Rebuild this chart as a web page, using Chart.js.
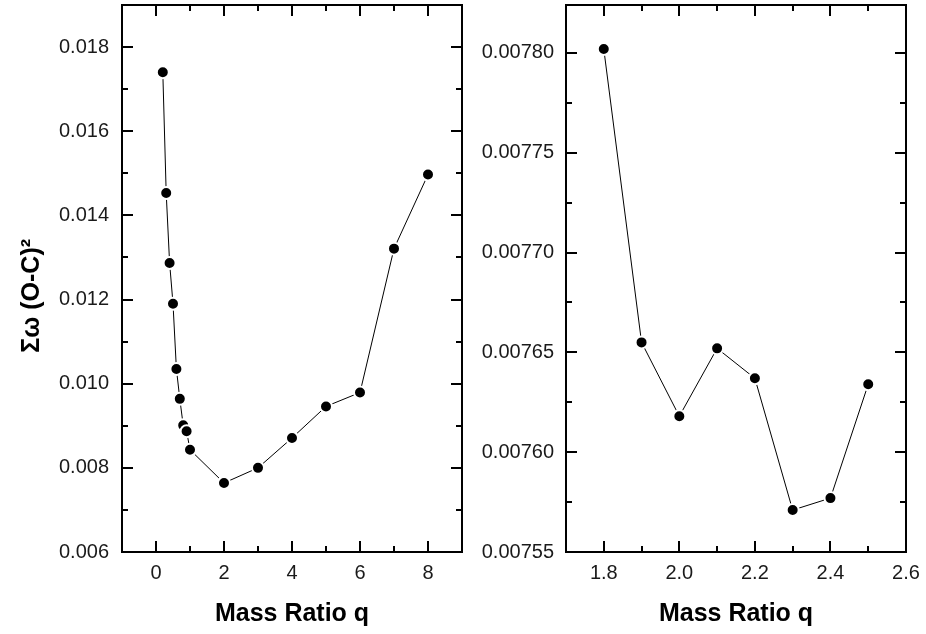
<!DOCTYPE html>
<html>
<head>
<meta charset="utf-8">
<script src="https://cdn.jsdelivr.net/npm/chart.js@4.4.1/dist/chart.umd.min.js"></script>
<style>
  html, body { margin: 0; padding: 0; background: #fff; }
  .wrap { position: relative; width: 926px; height: 634px; }
  .panel { position: absolute; top: 0; width: 463px; height: 634px; }
  #leftPanel { left: 0; }
  #rightPanel { left: 463px; }
</style>
</head>
<body>
<div class="wrap">
  <div class="panel" id="leftPanel"><canvas id="leftChart" width="463" height="634"></canvas></div>
  <div class="panel" id="rightPanel"><canvas id="rightChart" width="463" height="634"></canvas></div>
</div>
<script>
// wide scan of the mass ratio
const qWide = [0.2, 0.3, 0.4, 0.5, 0.6, 0.7, 0.8, 0.9, 1.0, 2, 3, 4, 5, 6, 7, 8];
const sumWide = [0.01740, 0.01453, 0.01287, 0.01190, 0.01035, 0.00964, 0.00901, 0.00887,
                 0.00843, 0.00764, 0.00800, 0.00871, 0.00946, 0.00979, 0.01321, 0.01497];

// fine scan around the minimum
const qFine = [1.8, 1.9, 2.0, 2.1, 2.2, 2.3, 2.4, 2.5];
const sumFine = [0.007802, 0.007655, 0.007618, 0.007652, 0.007637, 0.007571, 0.007577, 0.007634];

// ticks
const wideXTicks = [0, 2, 4, 6, 8];
const wideXLabels = ['0', '2', '4', '6', '8'];
const wideXMinor = [1, 3, 5, 7];
const wideYTicks = [0.006, 0.008, 0.010, 0.012, 0.014, 0.016, 0.018];
const wideYLabels = ['0.006', '0.008', '0.010', '0.012', '0.014', '0.016', '0.018'];
const wideYMinor = [0.007, 0.009, 0.011, 0.013, 0.015, 0.017];

const fineXTicks = [1.8, 2.0, 2.2, 2.4, 2.6];
const fineXLabels = ['1.8', '2.0', '2.2', '2.4', '2.6'];
const fineXMinor = [1.9, 2.1, 2.3, 2.5];
const fineYTicks = [0.00755, 0.00760, 0.00765, 0.00770, 0.00775, 0.00780];
const fineYLabels = ['0.00755', '0.00760', '0.00765', '0.00770', '0.00775', '0.00780'];
const fineYMinor = [0.007575, 0.007625, 0.007675, 0.007725, 0.007775];

Chart.defaults.font.family = '"Liberation Sans", Arial, sans-serif';
Chart.defaults.color = '#1a1a1a';

// box round the plot with inward ticks on all four sides
const frameAndTicks = {
  id: 'frameAndTicks',
  afterDatasetsDraw(chart, args, opts) {
    const { ctx, chartArea: a } = chart;
    const x = chart.scales.x, y = chart.scales.y;
    ctx.save();
    ctx.strokeStyle = '#000';
    ctx.lineWidth = 2;
    const seg = (x1, y1, x2, y2) => {
      ctx.beginPath(); ctx.moveTo(x1, y1); ctx.lineTo(x2, y2); ctx.stroke();
    };
    const xTicks = (vals, len) => vals.forEach(v => {
      const px = Math.round(x.getPixelForValue(v));
      seg(px, a.bottom, px, a.bottom - len);
      seg(px, a.top, px, a.top + len);
    });
    const yTicks = (vals, len) => vals.forEach(v => {
      const py = Math.round(y.getPixelForValue(v));
      seg(a.left, py, a.left + len, py);
      seg(a.right, py, a.right - len, py);
    });
    xTicks(opts.xMajor, 11); xTicks(opts.xMinor, 6);
    yTicks(opts.yMajor, 11); yTicks(opts.yMinor, 6);
    ctx.strokeRect(a.left, a.top, a.right - a.left, a.bottom - a.top);
    ctx.restore();
  }
};

function makeChart(canvasId, qs, sums, cfg) {
  const points = qs.map((q, i) => ({ x: q, y: sums[i] }));
  return new Chart(document.getElementById(canvasId), {
    type: 'line',
    data: {
      datasets: [{
        data: points,
        borderColor: '#000',
        borderWidth: 1,
        tension: 0,
        pointRadius: 6,
        pointBackgroundColor: '#000',
        pointBorderColor: '#fff',
        pointBorderWidth: 2,
        clip: false
      }]
    },
    options: {
      responsive: false,
      animation: false,
      layout: { padding: cfg.padding, autoPadding: false },
      plugins: {
        legend: { display: false },
        tooltip: { enabled: false },
        frameAndTicks: { xMajor: cfg.xTicks, xMinor: cfg.xMinor, yMajor: cfg.yTicks, yMinor: cfg.yMinor }
      },
      scales: {
        x: {
          type: 'linear',
          min: cfg.xMin,
          max: cfg.xMax,
          afterBuildTicks: s => { s.ticks = cfg.xTicks.map(v => ({ value: v })); },
          afterFit: s => { s.height = 82; s.paddingLeft = 0; s.paddingRight = 0; },
          grid: { display: false, drawTicks: false },
          border: { display: false },
          ticks: {
            callback: (v, i) => cfg.xLabels[i],
            font: { size: 20 },
            padding: 9,
            maxRotation: 0,
            autoSkip: false
          },
          title: {
            display: true,
            text: 'Mass Ratio q',
            color: '#000',
            font: { size: 25, weight: 'bold' },
            padding: { top: 0, bottom: 5 }
          }
        },
        y: {
          type: 'linear',
          min: cfg.yMin,
          max: cfg.yMax,
          afterBuildTicks: s => { s.ticks = cfg.yTicks.map(v => ({ value: v })); },
          afterFit: s => { s.width = cfg.yWidth; s.paddingTop = 0; s.paddingBottom = 0; },
          grid: { display: false, drawTicks: false },
          border: { display: false },
          ticks: {
            callback: (v, i) => cfg.yLabels[i],
            font: { size: 20 },
            padding: cfg.yPad,
            autoSkip: false
          },
          title: {
            display: !!cfg.yTitle,
            text: cfg.yTitle || '',
            color: '#000',
            font: { size: 25, weight: 'bold' },
            padding: { top: 17, bottom: 0 }
          }
        }
      }
    },
    plugins: [frameAndTicks]
  });
}

makeChart('leftChart', qWide, sumWide, {
  padding: { top: 5, right: 1, left: 0, bottom: 0 },
  xMin: -1, xMax: 9, yMin: 0.006, yMax: 0.019,
  xTicks: wideXTicks, xLabels: wideXLabels, xMinor: wideXMinor,
  yTicks: wideYTicks, yLabels: wideYLabels, yMinor: wideYMinor,
  yWidth: 122, yPad: 13,
  yTitle: 'Σω (O-C)²     '
});

makeChart('rightChart', qFine, sumFine, {
  padding: { top: 5, right: 20, left: 0, bottom: 0 },
  xMin: 1.7, xMax: 2.6, yMin: 0.00755, yMax: 0.007824,
  xTicks: fineXTicks, xLabels: fineXLabels, xMinor: fineXMinor,
  yTicks: fineYTicks, yLabels: fineYLabels, yMinor: fineYMinor,
  yWidth: 103, yPad: 12
});
</script>
</body>
</html>
